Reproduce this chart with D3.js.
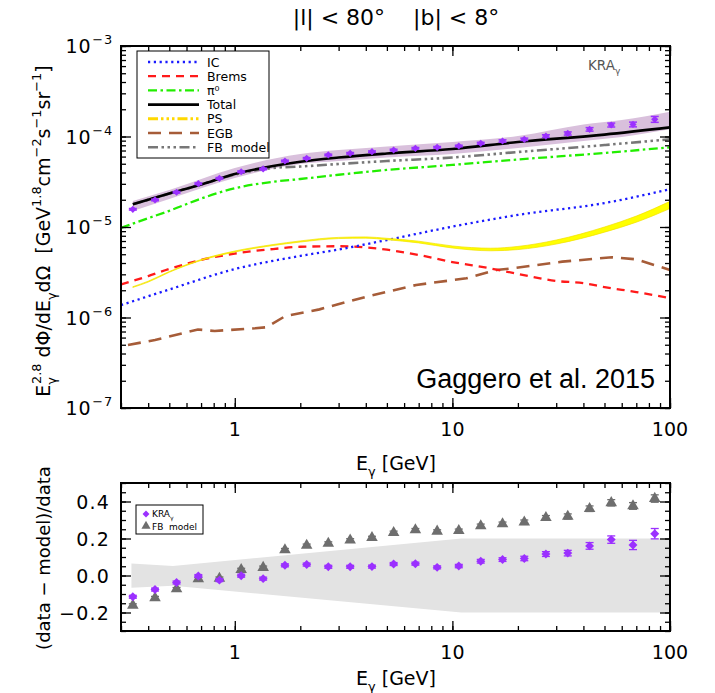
<!DOCTYPE html>
<html>
<head>
<meta charset="utf-8">
<script src="https://cdn.jsdelivr.net/npm/d3@7"></script>
<style>
  body { margin: 0; background: #fff; }
  svg { font-family: "DejaVu Sans", sans-serif; }
</style>
</head>
<body>
<div id="chart"></div>
<script>
// ---- data ----
// energy bins of the data points (GeV)
const dataE = [0.34, 0.43, 0.54, 0.68, 0.85, 1.07, 1.35, 1.70, 2.14, 2.69, 3.39, 4.27, 5.37,
  6.76, 8.51, 10.7, 13.5, 17.0, 21.4, 26.9, 33.9, 42.7, 53.7, 67.6, 85.1];
// measured spectrum E^2.8 dPhi/dE dOmega
const dataFlux = [1.57e-5, 1.99e-5, 2.42e-5, 3.01e-5, 3.45e-5, 4.08e-5, 4.38e-5, 5.36e-5, 5.74e-5,
  6.25e-5, 6.52e-5, 6.79e-5, 7.09e-5, 7.41e-5, 7.60e-5, 7.85e-5, 8.41e-5, 8.92e-5, 9.31e-5,
  1.01e-4, 1.08e-4, 1.20e-4, 1.34e-4, 1.36e-4, 1.55e-4];
const dataErrFrac = [0.02, 0.02, 0.02, 0.02, 0.02, 0.02, 0.02, 0.02, 0.02, 0.02, 0.02, 0.02, 0.02,
  0.02, 0.02, 0.02, 0.025, 0.03, 0.03, 0.035, 0.04, 0.045, 0.05, 0.06, 0.075];

// systematic band around the data
const bandE = [0.34, 0.5, 1, 2, 3, 5, 10, 20, 40, 60, 100];
const bandHi = [1.94e-5, 2.56e-5, 4.49e-5, 6.41e-5, 7.09e-5, 7.76e-5, 8.69e-5, 1.01e-4, 1.36e-4, 1.52e-4, 1.88e-4];
const bandLo = [1.50e-5, 2.04e-5, 3.48e-5, 4.97e-5, 5.36e-5, 5.86e-5, 6.41e-5, 7.46e-5, 8.92e-5, 9.87e-5, 1.20e-4];

// model components
const modelE = [0.34, 0.5, 0.7, 1, 1.5, 2, 3, 5, 10, 20, 50, 100];
const totalFlux = [1.78e-5, 2.34e-5, 2.95e-5, 3.85e-5, 4.72e-5, 5.27e-5, 5.86e-5, 6.49e-5, 7.28e-5, 8.69e-5, 1.05e-4, 1.26e-4];
const fbFlux = [1.78e-5, 2.34e-5, 2.95e-5, 3.80e-5, 4.49e-5, 4.66e-5, 4.97e-5, 5.36e-5, 5.86e-5, 6.74e-5, 8.05e-5, 9.31e-5];

const pi0E = [0.3, 0.4, 0.5, 0.7, 1, 1.5, 2, 3, 5, 10, 20, 50, 100];
const pi0Flux = [9.8e-6, 1.25e-5, 1.51e-5, 2.06e-5, 2.68e-5, 3.16e-5, 3.39e-5, 3.78e-5, 4.27e-5, 4.85e-5, 5.57e-5, 6.58e-5, 7.60e-5];

const icE = [0.3, 0.5, 1, 2, 3, 5, 10, 20, 50, 100];
const icFlux = [1.37e-6, 2.04e-6, 3.43e-6, 4.79e-6, 5.64e-6, 7.18e-6, 1.01e-5, 1.36e-5, 1.84e-5, 2.61e-5];

const bremsE = [0.3, 0.4, 0.5, 0.7, 1, 1.5, 2, 3, 5, 7, 10, 15, 20, 30, 40, 50, 70, 100];
const bremsFlux = [2.32e-6, 2.87e-6, 3.44e-6, 4.32e-6, 5.09e-6, 5.71e-6, 6.05e-6, 6.13e-6, 5.61e-6,
  4.91e-6, 4.10e-6, 3.48e-6, 3.03e-6, 2.53e-6, 2.40e-6, 2.17e-6, 1.91e-6, 1.64e-6];

// point-source band (upper / lower edge)
const psE = [0.34, 0.4, 0.5, 0.7, 1, 1.5, 2, 3, 4, 5, 7, 10, 15, 20, 30, 50, 70, 100];
const psHi = [2.19e-6, 2.52e-6, 3.22e-6, 4.37e-6, 5.43e-6, 6.40e-6, 7.02e-6, 7.68e-6, 7.77e-6,
  7.50e-6, 6.97e-6, 6.17e-6, 5.83e-6, 6.10e-6, 7.18e-6, 1.00e-5, 1.32e-5, 1.92e-5];
const psLo = [2.15e-6, 2.46e-6, 3.16e-6, 4.27e-6, 5.29e-6, 6.24e-6, 6.82e-6, 7.45e-6, 7.53e-6,
  7.24e-6, 6.67e-6, 5.86e-6, 5.46e-6, 5.63e-6, 6.48e-6, 8.77e-6, 1.13e-5, 1.60e-5];

const egbE = [0.323, 0.43, 0.677, 0.809, 1.24, 1.40, 1.71, 2.45, 4.03, 6.82, 11.6, 15.9, 18.9, 32.0, 54.1, 69.8, 100];
const egbFlux = [4.97e-7, 5.64e-7, 7.36e-7, 7.10e-7, 7.60e-7, 7.80e-7, 1.04e-6, 1.23e-6, 1.70e-6,
  2.29e-6, 2.71e-6, 3.35e-6, 3.50e-6, 4.14e-6, 4.63e-6, 4.40e-6, 3.35e-6];

// residuals (data - model)/data
const resKRA = [-0.115, -0.076, -0.038, -0.003, -0.025, -0.001, -0.017, 0.055, 0.059, 0.047, 0.047,
  0.048, 0.062, 0.064, 0.044, 0.051, 0.077, 0.086, 0.092, 0.116, 0.121, 0.160, 0.194, 0.165, 0.226];
const errKRA = [0.008, 0.008, 0.008, 0.008, 0.008, 0.008, 0.008, 0.008, 0.008, 0.008, 0.008, 0.008,
  0.008, 0.008, 0.008, 0.009, 0.01, 0.01, 0.012, 0.013, 0.015, 0.018, 0.02, 0.025, 0.028];
const resFB = [-0.161, -0.121, -0.073, -0.018, -0.016, 0.031, 0.043, 0.138, 0.162, 0.174, 0.191,
  0.204, 0.232, 0.246, 0.239, 0.242, 0.268, 0.279, 0.288, 0.312, 0.319, 0.361, 0.393, 0.376, 0.416];
const errFB = [0.008, 0.008, 0.008, 0.008, 0.008, 0.008, 0.008, 0.008, 0.008, 0.008, 0.008, 0.008,
  0.008, 0.008, 0.008, 0.009, 0.01, 0.01, 0.012, 0.012, 0.014, 0.015, 0.017, 0.018, 0.02];

// model uncertainty band in the residual panel
const resBandE = [0.335, 0.52, 11, 100];
const resBandHi = [0.065, 0.052, 0.2, 0.2];
const resBandLo = [-0.066, -0.056, -0.2, -0.2];

const topTicks = [-7, -6, -5, -4, -3];
const botTicks = [0.4, 0.2, 0.0, -0.2];
const xLabels = [1, 10, 100];

// ---- setup ----
const width = 715, height = 693;
const svg = d3.select('#chart').append('svg')
  .attr('width', width).attr('height', height);
svg.append('rect').attr('width', width).attr('height', height).attr('fill', '#fff');

const left = 121, right = 670;
const x = d3.scaleLog().domain([0.3, 100]).range([left, right]);
const yTop = d3.scaleLog().domain([1e-7, 1e-3]).range([408, 46]);
const yBot = d3.scaleLinear().domain([-0.3, 0.5]).range([631, 483]);

const zip = (xs, ys) => xs.map((e, i) => [e, ys[i]]);
// diamond marker = square turned by 45 degrees
const diamond = size => d3.symbol(d3.symbolSquare, size)();

// text with sub/superscripts: parts = [[str, 'sub'|'sup'|'', dx]]
function rich(sel, parts, size) {
  let shift = 0;
  parts.forEach(([t, kind, dx]) => {
    const target = kind === 'sup' ? -0.45 * size : kind === 'sub' ? 0.32 * size : 0;
    sel.append('tspan')
      .attr('dy', target - shift)
      .attr('dx', dx || 0)
      .attr('font-size', kind ? size * 0.68 : size)
      .text(t);
    shift = target;
  });
}

// ticks on all four sides, pointing inward
function frame(top, bottom, yScale, yMinor, yMajor) {
  const g = svg.append('g');
  const xMinor = x.ticks();
  const xMajor = [1, 10, 100];
  const ax = (axis, tr) => g.append('g').attr('transform', tr).call(axis)
    .call(s => s.select('.domain').remove())
    .call(s => s.selectAll('line').attr('stroke-width', 1.3));
  ax(d3.axisBottom(x).tickValues(xMinor).tickSize(-5).tickFormat(''), `translate(0,${bottom})`);
  ax(d3.axisBottom(x).tickValues(xMajor).tickSize(-10).tickFormat(''), `translate(0,${bottom})`);
  ax(d3.axisTop(x).tickValues(xMinor).tickSize(-5).tickFormat(''), `translate(0,${top})`);
  ax(d3.axisTop(x).tickValues(xMajor).tickSize(-10).tickFormat(''), `translate(0,${top})`);
  ax(d3.axisLeft(yScale).tickValues(yMinor).tickSize(-5).tickFormat(''), `translate(${left},0)`);
  ax(d3.axisLeft(yScale).tickValues(yMajor).tickSize(-10).tickFormat(''), `translate(${left},0)`);
  ax(d3.axisRight(yScale).tickValues(yMinor).tickSize(-5).tickFormat(''), `translate(${right},0)`);
  ax(d3.axisRight(yScale).tickValues(yMajor).tickSize(-10).tickFormat(''), `translate(${right},0)`);
  g.append('rect')
    .attr('x', left).attr('y', top)
    .attr('width', right - left).attr('height', bottom - top)
    .attr('fill', 'none').attr('stroke', '#000').attr('stroke-width', 2);
  // x tick labels
  g.selectAll('.xl').data(xLabels).enter().append('text')
    .attr('x', d => x(d)).attr('y', bottom + 28)
    .attr('text-anchor', 'middle').attr('font-size', 19)
    .text(d => d);
  return g;
}

// ---- top panel ----
const lineTop = d3.line().x(d => x(d[0])).y(d => yTop(d[1])).curve(d3.curveMonotoneX);
const lineTopLin = d3.line().x(d => x(d[0])).y(d => yTop(d[1]));

svg.append('path')
  .attr('d', d3.area().x(d => x(d[0])).y0(d => yTop(d[2])).y1(d => yTop(d[1])).curve(d3.curveMonotoneX)(
    bandE.map((e, i) => [e, bandHi[i], bandLo[i]])))
  .attr('fill', '#d9c0dc');

const styles = {
  ic: { color: '#1a1aff', dash: '2.2,3.6', w: 2.3 },
  brems: { color: '#ff1a1a', dash: '8,6', w: 2.3 },
  pi0: { color: '#22ee00', dash: '9,3.5,2.5,3.5', w: 2.3 },
  total: { color: '#000', dash: null, w: 2.6 },
  ps: { color: '#ffd800', dash: '10,3,2.5,3,2.5,3,2.5,3', w: 3 },
  egb: { color: '#a65c38', dash: '13,8', w: 2.6 },
  fb: { color: '#777', dash: '10,3.5,2.5,3.5,2.5,3.5,2.5,3.5', w: 2.6 }
};

function curve(pts, st, gen) {
  svg.append('path').attr('d', (gen || lineTop)(pts))
    .attr('fill', 'none').attr('stroke', st.color)
    .attr('stroke-width', st.w).attr('stroke-dasharray', st.dash);
}

curve(zip(egbE, egbFlux), styles.egb, lineTopLin);
curve(zip(bremsE, bremsFlux), styles.brems);
curve(zip(icE, icFlux), styles.ic);
svg.append('path')
  .attr('d', d3.area().x(d => x(d[0])).y0(d => yTop(d[2])).y1(d => yTop(d[1])).curve(d3.curveMonotoneX)(
    psE.map((e, i) => [e, psHi[i], psLo[i]])))
  .attr('fill', '#ffff00').attr('stroke', '#f2e000').attr('stroke-width', 0.7);
curve(zip(pi0E, pi0Flux), styles.pi0);
curve(zip(modelE, fbFlux), styles.fb);
curve(zip(modelE, totalFlux), styles.total);

// data points with error bars
const dataG = svg.append('g').attr('fill', '#9b30ff').attr('stroke', '#9b30ff');
dataE.forEach((e, i) => {
  const v = dataFlux[i], er = dataErrFrac[i];
  const y0 = yTop(v * (1 - er)), y1 = yTop(v * (1 + er));
  dataG.append('line').attr('x1', x(e)).attr('x2', x(e)).attr('y1', y0).attr('y2', y1).attr('stroke-width', 1.5);
  dataG.append('line').attr('x1', x(e) - 4).attr('x2', x(e) + 4).attr('y1', y0).attr('y2', y0).attr('stroke-width', 1.5);
  dataG.append('line').attr('x1', x(e) - 4).attr('x2', x(e) + 4).attr('y1', y1).attr('y2', y1).attr('stroke-width', 1.5);
  dataG.append('path').attr('d', diamond(26))
    .attr('transform', `translate(${x(e)},${yTop(v)}) rotate(45)`).attr('stroke', 'none');
});

frame(46, 408, yTop, yTop.ticks(), topTicks.map(k => Math.pow(10, k)));

// y tick labels (powers of ten)
topTicks.forEach(k => {
  const t = svg.append('text').attr('x', 113).attr('y', yTop(Math.pow(10, k)) + 7)
    .attr('text-anchor', 'end').attr('font-size', 19).attr('letter-spacing', 0.8);
  rich(t, [['10', ''], ['\u2212' + (-k), 'sup', 1]], 19);
});

// legend
const legend = [
  ['IC', styles.ic], ['Brems', styles.brems], ['\u03c0\u2070', styles.pi0], ['Total', styles.total],
  ['PS', styles.ps], ['EGB', styles.egb], ['FB  model', styles.fb]
];
const lg = svg.append('g');
lg.append('rect').attr('x', 137).attr('y', 51).attr('width', 132).attr('height', 107)
  .attr('fill', '#fff').attr('stroke', '#000').attr('stroke-width', 1);
legend.forEach(([name, st], i) => {
  const yy = 62 + i * 14.2;
  lg.append('line').attr('x1', 148).attr('x2', 199).attr('y1', yy).attr('y2', yy)
    .attr('stroke', st.color).attr('stroke-width', st.w).attr('stroke-dasharray', st.dash);
  lg.append('text').attr('x', 207).attr('y', yy + 4.5).attr('font-size', 12.5)
    .attr('xml:space', 'preserve').text(name);
});

const kra = svg.append('text').attr('x', 588).attr('y', 70).attr('font-size', 13.5).attr('fill', '#555');
rich(kra, [['KRA', ''], ['\u03b3', 'sub']], 13.5);

svg.append('text').attr('x', 655).attr('y', 388).attr('text-anchor', 'end')
  .attr('font-family', '"Liberation Sans", Arial, sans-serif').attr('font-size', 27)
  .text('Gaggero et al. 2015');

// ---- bottom panel ----
svg.append('path')
  .attr('d', d3.area().x(d => x(d[0])).y0(d => yBot(d[2])).y1(d => yBot(d[1]))(
    resBandE.map((e, i) => [e, resBandHi[i], resBandLo[i]])))
  .attr('fill', '#e3e3e3');

function resPoints(vals, errs, path, rot, color) {
  const g = svg.append('g').attr('fill', color).attr('stroke', color);
  dataE.forEach((e, i) => {
    const y0 = yBot(vals[i] - errs[i]), y1 = yBot(vals[i] + errs[i]);
    g.append('line').attr('x1', x(e)).attr('x2', x(e)).attr('y1', y0).attr('y2', y1).attr('stroke-width', 1.3);
    g.append('line').attr('x1', x(e) - 4).attr('x2', x(e) + 4).attr('y1', y0).attr('y2', y0).attr('stroke-width', 1.3);
    g.append('line').attr('x1', x(e) - 4).attr('x2', x(e) + 4).attr('y1', y1).attr('y2', y1).attr('stroke-width', 1.3);
    g.append('path').attr('d', path)
      .attr('transform', `translate(${x(e)},${yBot(vals[i])}) rotate(${rot})`).attr('stroke', 'none');
  });
}
resPoints(resFB, errFB, d3.symbol(d3.symbolTriangle, 58)(), 0, '#6e6e6e');
resPoints(resKRA, errKRA, diamond(40), 45, '#9b30ff');

const minorBot = d3.range(-0.3, 0.5001, 0.05).map(v => +v.toFixed(2));
frame(483, 631, yBot, minorBot, botTicks);

botTicks.forEach(v => {
  svg.append('text').attr('x', 110).attr('y', yBot(v) + 7)
    .attr('text-anchor', 'end').attr('font-size', 19).attr('letter-spacing', 1.2)
    .text(v < 0 ? '\u2212' + Math.abs(v).toFixed(1) : v.toFixed(1));
});

// residual legend
const rl = svg.append('g');
rl.append('rect').attr('x', 136).attr('y', 505).attr('width', 67).attr('height', 29)
  .attr('fill', '#fff').attr('stroke', '#000').attr('stroke-width', 1);
rl.append('path').attr('d', diamond(24)).attr('transform', 'translate(146,514) rotate(45)').attr('fill', '#9b30ff');
rl.append('path').attr('d', d3.symbol(d3.symbolTriangle, 36)()).attr('transform', 'translate(146,526)').attr('fill', '#6e6e6e');
const rt = rl.append('text').attr('x', 152).attr('y', 517).attr('font-size', 9);
rich(rt, [['KRA', ''], ['\u03b3', 'sub']], 9);
rl.append('text').attr('x', 152).attr('y', 529.5).attr('font-size', 9).attr('xml:space', 'preserve').text('FB  model');

// ---- titles ----
svg.append('text').attr('x', 396).attr('y', 25).attr('text-anchor', 'middle')
  .attr('font-size', 22).attr('xml:space', 'preserve')
  .text('|l| < 80\u00b0    |b| < 8\u00b0');

[470, 685].forEach(yy => {
  const t = svg.append('text').attr('x', 396).attr('y', yy).attr('text-anchor', 'middle').attr('font-size', 19);
  rich(t, [['E', ''], ['\u03b3', 'sub'], [' [GeV]', '']], 19);
});

const yl = svg.append('text').attr('transform', 'translate(50,231) rotate(-90)')
  .attr('text-anchor', 'middle').attr('font-size', 19).attr('xml:space', 'preserve');
rich(yl, [['E', ''], ['\u03b3', 'sub'], ['2.8', 'sup', -7], [' d\u03a6/dE', ''], ['\u03b3', 'sub'],
  ['d\u03a9  [GeV', ''], ['1.8', 'sup'], ['cm', ''], ['\u22122', 'sup'], ['s', ''], ['\u22121', 'sup'],
  ['sr', ''], ['\u22121', 'sup'], [']', '']], 19);

svg.append('text').attr('transform', 'translate(50,558) rotate(-90)')
  .attr('text-anchor', 'middle').attr('font-size', 18).attr('xml:space', 'preserve')
  .text('(data \u2212 model)/data');
</script>
</body>
</html>
